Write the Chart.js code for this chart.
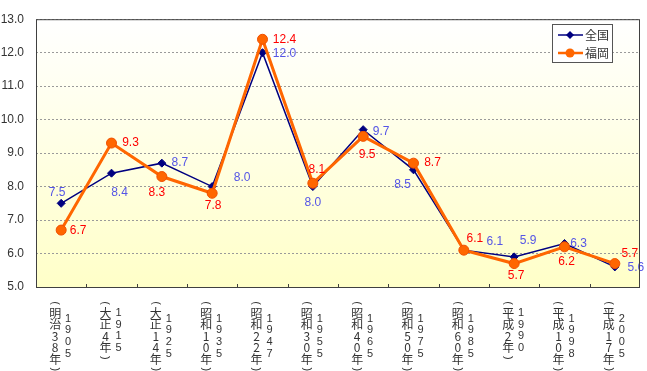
<!DOCTYPE html>
<html>
<head>
<meta charset="utf-8">
<script src="https://cdn.jsdelivr.net/npm/chart.js@4/dist/chart.umd.min.js"></script>
<style>
  html, body { margin: 0; padding: 0; background: #fff; }
  #chart { display: block; }
</style>
</head>
<body>
<canvas id="chart" width="647" height="371"></canvas>
<script>
// data
const eraLabels = ['明治38年', '大正4年', '大正14年', '昭和10年', '昭和22年', '昭和30年',
  '昭和40年', '昭和50年', '昭和60年', '平成2年', '平成10年', '平成17年'];
const yearLabels = ['1905', '1915', '1925', '1935', '1947', '1955',
  '1965', '1975', '1985', '1990', '1998', '2005'];
const nationalValues = [7.5, 8.4, 8.7, 8.0, 12.0, 8.0, 9.7, 8.5, 6.1, 5.9, 6.3, 5.6];
const fukuokaValues = [6.7, 9.3, 8.3, 7.8, 12.4, 8.1, 9.5, 8.7, 6.1, 5.7, 6.2, 5.7];
const yTicks = [5, 6, 7, 8, 9, 10, 11, 12, 13];

// where each value label sits relative to its point (dx, dy in px)
const nationalLabelPos = [[-4, -11], [8, 20], [18, 0], [30, -9], [22, 1], [0, 16],
  [18, 2], [-11, 15], [31, -8], [14, -16], [14, 0], [21, 1]];
const fukuokaLabelPos = [[17, 1], [19, 0], [-5, 16], [1, 12], [22, 0], [4, -14],
  [4, 18], [19, 0], [11, -11], [2, 12], [2, 15], [15, -10]];

const NAVY = '#000080';
const ORANGE = '#FF6600';
const NUM_FONT = '"Liberation Sans", Arial, sans-serif';
const JP_FONT = '"Noto Sans CJK JP", sans-serif';

// draws a bracket turned on its side, for the vertical labels
function sideParen(ctx, ch, x, y) {
  ctx.save();
  ctx.translate(x, y);
  ctx.rotate(Math.PI / 2);
  ctx.font = '11px ' + NUM_FONT;
  ctx.fillText(ch, 0, 0);
  ctx.restore();
}

const plotDecor = {
  id: 'plotDecor',
  beforeDraw(chart) {
    const { ctx, chartArea: a } = chart;
    const g = ctx.createLinearGradient(0, a.top, 0, a.bottom);
    g.addColorStop(0, '#FFFFFF');
    g.addColorStop(1, '#FFFFC8');
    ctx.save();
    ctx.fillStyle = g;
    ctx.fillRect(a.left, a.top, a.right - a.left, a.bottom - a.top);
    ctx.restore();
  },
  afterDraw(chart) {
    const { ctx, chartArea: a } = chart;
    const x = chart.scales.x;
    ctx.save();
    // frame
    ctx.strokeStyle = '#404040';
    ctx.lineWidth = 1;
    ctx.strokeRect(a.left + 0.5, a.top + 0.5, a.right - a.left - 1, a.bottom - a.top);
    // small tick marks between categories
    const step = x.getPixelForValue(1) - x.getPixelForValue(0);
    ctx.beginPath();
    for (let i = 1; i < eraLabels.length; i++) {
      const px = Math.round(x.getPixelForValue(i) - step / 2) + 0.5;
      ctx.moveTo(px, a.bottom);
      ctx.lineTo(px, a.bottom - 3);
    }
    ctx.stroke();

    // vertical category labels
    ctx.fillStyle = '#333';
    ctx.textAlign = 'center';
    ctx.textBaseline = 'middle';
    eraLabels.forEach((era, i) => {
      const cx = x.getPixelForValue(i);
      const chars = era.split('');
      const first = 313;
      const last = first + (chars.length - 1) * 11.6;
      sideParen(ctx, '(', cx - 6, first - 10);
      ctx.font = '12px ' + JP_FONT;
      chars.forEach((c, k) => ctx.fillText(c, cx - 6, first + k * 11.6));
      sideParen(ctx, ')', cx - 6, last + 10);
      const mid = (first - 10 + last + 10) / 2;
      const digits = yearLabels[i].split('');
      ctx.font = '11px ' + NUM_FONT;
      digits.forEach((d, k) => {
        ctx.fillText(d, cx + 7, mid + (k - (digits.length - 1) / 2) * 11.6);
      });
    });

    // legend box
    const lx = 552, ly = 24, lw = 60, lh = 38;
    ctx.fillStyle = '#fff';
    ctx.fillRect(lx, ly, lw, lh);
    ctx.strokeStyle = '#555';
    ctx.strokeRect(lx + 0.5, ly + 0.5, lw, lh);
    const entries = [['全国', NAVY, 'diamond', 35], ['福岡', ORANGE, 'circle', 53]];
    entries.forEach(([name, col, shape, ey]) => {
      ctx.strokeStyle = col;
      ctx.lineWidth = shape === 'circle' ? 2.5 : 1.5;
      ctx.beginPath();
      ctx.moveTo(558, ey);
      ctx.lineTo(583, ey);
      ctx.stroke();
      ctx.fillStyle = col;
      ctx.beginPath();
      if (shape === 'circle') {
        ctx.arc(570, ey, 4.5, 0, Math.PI * 2);
      } else {
        ctx.moveTo(570, ey - 4); ctx.lineTo(574, ey); ctx.lineTo(570, ey + 4); ctx.lineTo(566, ey);
        ctx.closePath();
      }
      ctx.fill();
      ctx.fillStyle = '#333';
      ctx.font = '12px ' + JP_FONT;
      ctx.textAlign = 'left';
      ctx.fillText(name, 585, ey);
    });
    ctx.restore();
  },
  afterDatasetsDraw(chart) {
    const { ctx } = chart;
    ctx.save();
    ctx.font = '12px ' + NUM_FONT;
    ctx.textAlign = 'center';
    ctx.textBaseline = 'middle';
    const sets = [[0, nationalValues, nationalLabelPos, '#5555E6'], [1, fukuokaValues, fukuokaLabelPos, '#FF0000']];
    sets.forEach(([di, vals, pos, col]) => {
      const meta = chart.getDatasetMeta(di);
      ctx.fillStyle = col;
      meta.data.forEach((pt, i) => {
        ctx.fillText(vals[i].toFixed(1), pt.x + pos[i][0], pt.y + pos[i][1]);
      });
    });
    ctx.restore();
  }
};

new Chart(document.getElementById('chart'), {
  type: 'line',
  data: {
    labels: yearLabels,
    datasets: [
      {
        label: '全国',
        data: nationalValues,
        borderColor: NAVY,
        backgroundColor: NAVY,
        borderWidth: 1.5,
        pointStyle: 'rectRot',
        pointRadius: 4,
        pointBorderWidth: 1,
        tension: 0,
        order: 1
      },
      {
        label: '福岡',
        data: fukuokaValues,
        borderColor: ORANGE,
        backgroundColor: ORANGE,
        borderWidth: 3,
        pointStyle: 'circle',
        pointRadius: 5,
        pointBorderColor: '#F05000',
        pointBorderWidth: 1,
        tension: 0,
        order: 0
      }
    ]
  },
  options: {
    responsive: false,
    animation: false,
    devicePixelRatio: 1,
    layout: { padding: { top: 7, right: 7, left: 0, bottom: 0 } },
    plugins: { legend: { display: false }, tooltip: { enabled: false } },
    scales: {
      x: {
        offset: true,
        grid: { display: false },
        border: { display: false },
        ticks: { display: false },
        afterFit: s => { s.height = 84; }
      },
      y: {
        min: 5,
        max: 13,
        afterBuildTicks: s => { s.ticks = yTicks.map(v => ({ value: v })); },
        afterFit: s => { s.width = 36; },
        // dotted grid lines
        border: { display: false, dash: [2, 2] },
        grid: {
          drawTicks: false,
          color: '#9A9A9A',
          lineWidth: 1
        },
        ticks: {
          padding: 12,
          color: '#333',
          font: { size: 12, family: NUM_FONT },
          callback: v => Number(v).toFixed(1)
        }
      }
    }
  },
  plugins: [plotDecor]
});
</script>
</body>
</html>
